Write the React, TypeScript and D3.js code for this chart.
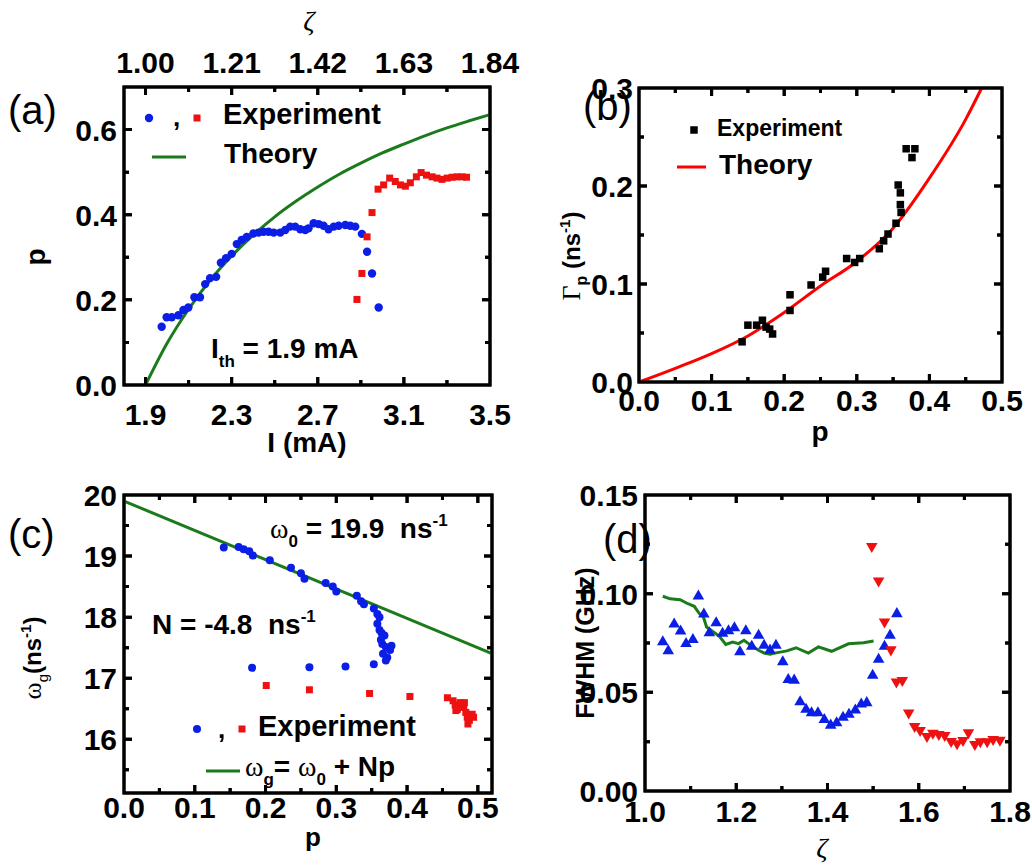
import React from "react";
import * as d3 from "d3";

const FONT = '"Liberation Sans", Arial, Helvetica, sans-serif';
const SERIF = '"Liberation Serif", "DejaVu Serif", serif';
const BLUE = "#0a1ee6";
const RED = "#ee1111";
const GREEN = "#1b7a1b";

const aBlueI = [1.975, 1.998, 2.022, 2.053, 2.076, 2.099, 2.127, 2.153, 2.177, 2.2, 2.228, 2.25, 2.274, 2.3, 2.324, 2.347, 2.37, 2.401, 2.425, 2.448, 2.471, 2.495, 2.526, 2.549, 2.572, 2.595, 2.619, 2.642, 2.657, 2.681, 2.704, 2.727, 2.75, 2.774, 2.797, 2.828, 2.851, 2.874, 2.905, 2.929, 2.952, 2.983];
const aBlueP = [0.137, 0.159, 0.159, 0.164, 0.176, 0.182, 0.206, 0.206, 0.237, 0.251, 0.254, 0.287, 0.298, 0.308, 0.331, 0.341, 0.348, 0.356, 0.358, 0.36, 0.36, 0.358, 0.358, 0.364, 0.372, 0.372, 0.366, 0.364, 0.368, 0.38, 0.378, 0.374, 0.366, 0.372, 0.374, 0.376, 0.374, 0.372, 0.355, 0.313, 0.262, 0.182];
const aRedI = [2.882, 2.905, 2.929, 2.952, 2.98, 3.006, 3.034, 3.06, 3.084, 3.107, 3.13, 3.158, 3.18, 3.205, 3.231, 3.254, 3.277, 3.301, 3.324, 3.347, 3.371, 3.391];
const aRedP = [0.201, 0.262, 0.348, 0.405, 0.46, 0.47, 0.486, 0.478, 0.47, 0.467, 0.475, 0.489, 0.499, 0.493, 0.489, 0.486, 0.483, 0.486, 0.488, 0.489, 0.489, 0.488];
const aTheoryI = [1.9, 2.0, 2.1, 2.2, 2.3, 2.4, 2.5, 2.6, 2.7, 2.8, 2.9, 3.0, 3.1, 3.2, 3.3, 3.4, 3.5];
const aTheoryP = [0, 0.098, 0.178, 0.246, 0.303, 0.352, 0.395, 0.432, 0.465, 0.495, 0.521, 0.545, 0.566, 0.586, 0.604, 0.62, 0.635];
const aXTicks = [1.9, 2.3, 2.7, 3.1, 3.5];
const aXMinor = [2.1, 2.5, 2.9, 3.3];
const aTopLabels = ["1.00", "1.21", "1.42", "1.63", "1.84"];
const aYTicks = [0, 0.2, 0.4, 0.6];
const aYMinor = [0.1, 0.3, 0.5];

const bExpP = [0.142, 0.15, 0.162, 0.17, 0.175, 0.18, 0.184, 0.208, 0.208, 0.237, 0.253, 0.257, 0.286, 0.297, 0.304, 0.331, 0.337, 0.343, 0.354, 0.357, 0.36, 0.36, 0.361, 0.368, 0.376, 0.38];
const bExpG = [0.041, 0.058, 0.058, 0.063, 0.056, 0.054, 0.049, 0.073, 0.089, 0.099, 0.107, 0.113, 0.126, 0.122, 0.126, 0.136, 0.144, 0.151, 0.162, 0.201, 0.193, 0.181, 0.173, 0.238, 0.229, 0.238];
const bTheoryP = [0, 0.05, 0.1, 0.15, 0.2, 0.25, 0.3, 0.35, 0.4, 0.45, 0.472];
const bTheoryG = [0, 0.014, 0.029, 0.047, 0.071, 0.098, 0.123, 0.157, 0.208, 0.268, 0.3];
const bXTicks = [0, 0.1, 0.2, 0.3, 0.4, 0.5];
const bXMinor = [0.05, 0.15, 0.25, 0.35, 0.45];
const bYTicks = [0, 0.1, 0.2, 0.3];
const bYMinor = [0.05, 0.15, 0.25];

const cBlueP = [0.141, 0.162, 0.169, 0.177, 0.182, 0.206, 0.236, 0.25, 0.255, 0.285, 0.295, 0.3, 0.329, 0.335, 0.339, 0.353, 0.358, 0.361, 0.358, 0.361, 0.364, 0.368, 0.363, 0.365, 0.37, 0.378, 0.376, 0.366, 0.372, 0.37, 0.353, 0.313, 0.262, 0.181];
const cBlueW = [19.14, 19.15, 19.11, 19.08, 19.01, 18.93, 18.81, 18.72, 18.63, 18.56, 18.5, 18.42, 18.35, 18.26, 18.21, 18.14, 18.05, 18.0, 17.89, 17.79, 17.74, 17.7, 17.63, 17.56, 17.51, 17.53, 17.46, 17.4, 17.34, 17.29, 17.23, 17.19, 17.18, 17.17];
const cRedP = [0.201, 0.262, 0.347, 0.404, 0.457, 0.465, 0.468, 0.471, 0.475, 0.48, 0.481, 0.483, 0.485, 0.488, 0.486, 0.492, 0.494, 0.469];
const cRedW = [16.88, 16.81, 16.75, 16.7, 16.68, 16.63, 16.56, 16.49, 16.6, 16.52, 16.6, 16.44, 16.36, 16.31, 16.25, 16.41, 16.36, 16.47];
const cFitP = [0, 0.52];
const cFitW = [19.9, 17.404];
const cXTicks = [0, 0.1, 0.2, 0.3, 0.4, 0.5];
const cXMinor = [0.05, 0.15, 0.25, 0.35, 0.45];
const cYTicks = [16, 17, 18, 19, 20];
const cYMinor = [15.5, 16.5, 17.5, 18.5, 19.5];

const dBlueZ = [1.039, 1.051, 1.064, 1.078, 1.09, 1.105, 1.117, 1.129, 1.141, 1.156, 1.17, 1.183, 1.196, 1.208, 1.221, 1.234, 1.249, 1.261, 1.274, 1.287, 1.302, 1.314, 1.327, 1.34, 1.353, 1.365, 1.379, 1.393, 1.407, 1.42, 1.434, 1.447, 1.461, 1.474, 1.486, 1.499, 1.512, 1.525, 1.537, 1.552];
const dBlueF = [0.0755, 0.071, 0.0845, 0.081, 0.0747, 0.0767, 0.0987, 0.0896, 0.0801, 0.0852, 0.0798, 0.0811, 0.0826, 0.0705, 0.0811, 0.0733, 0.0788, 0.0738, 0.0713, 0.0738, 0.0654, 0.0564, 0.0561, 0.0451, 0.0413, 0.0396, 0.0396, 0.0361, 0.0333, 0.0345, 0.0373, 0.0388, 0.041, 0.044, 0.0447, 0.0586, 0.0667, 0.0733, 0.0788, 0.0898];
const dRedZ = [1.497, 1.512, 1.525, 1.539, 1.551, 1.564, 1.578, 1.591, 1.603, 1.618, 1.631, 1.644, 1.657, 1.671, 1.684, 1.697, 1.709, 1.723, 1.735, 1.75, 1.763, 1.778];
const dRedF = [0.124, 0.1065, 0.0857, 0.0716, 0.0553, 0.0561, 0.0396, 0.0328, 0.0308, 0.0277, 0.0294, 0.0287, 0.0282, 0.0252, 0.024, 0.0257, 0.0296, 0.0236, 0.025, 0.025, 0.0262, 0.0258];
const dLineZ = [1.039, 1.055, 1.077, 1.094, 1.108, 1.119, 1.128, 1.135, 1.15, 1.163, 1.177, 1.192, 1.205, 1.217, 1.232, 1.249, 1.261, 1.274, 1.287, 1.311, 1.331, 1.358, 1.38, 1.409, 1.446, 1.479, 1.501];
const dLineF = [0.0987, 0.0974, 0.0969, 0.0949, 0.0936, 0.0899, 0.0882, 0.0831, 0.0806, 0.0784, 0.0743, 0.0755, 0.0747, 0.0764, 0.0738, 0.0713, 0.0699, 0.0693, 0.07, 0.071, 0.0726, 0.0699, 0.073, 0.0708, 0.0746, 0.0751, 0.076];
const dXTicks = [1.0, 1.2, 1.4, 1.6, 1.8];
const dXMinor = [1.1, 1.3, 1.5, 1.7];
const dYTicks = [0, 0.05, 0.1, 0.15];
const dYMinor = [0.025, 0.075, 0.125];

const ax = d3.scaleLinear().domain([1.8, 3.5]).range([124, 490]);
const ay = d3.scaleLinear().domain([0, 0.7]).range([385, 87]);
const bx = d3.scaleLinear().domain([0, 0.5]).range([639, 1002]);
const by = d3.scaleLinear().domain([0, 0.3]).range([382, 88]);
const cx = d3.scaleLinear().domain([0, 0.52]).range([124, 492]);
const cy = d3.scaleLinear().domain([15.12, 20]).range([793, 495]);
const dx = d3.scaleLinear().domain([1.0, 1.8]).range([645, 1010]);
const dy = d3.scaleLinear().domain([0, 0.15]).range([791, 495]);

type Sc = d3.ScaleLinear<number, number>;
const PANELS: [Sc, Sc, number[], number[], number[], number[]][] = [
  [ax, ay, aXTicks, aXMinor, aYTicks, aYMinor],
  [bx, by, bXTicks, bXMinor, bYTicks, bYMinor],
  [cx, cy, cXTicks, cXMinor, cYTicks, cYMinor],
  [dx, dy, dXTicks, dXMinor, dYTicks, dYMinor],
];

const f1 = d3.format(".1f");
const f2 = d3.format(".2f");
const f0 = d3.format("d");

function framePath(xs: Sc, ys: Sc, xM: number[], xm: number[], yM: number[], ym: number[]) {
  const [l, r] = xs.range();
  const [b, t] = ys.range();
  let d = `M${l},${t}H${r}V${b}H${l}Z`;
  const tx = (v: number, L: number) => {
    const px = xs(v);
    d += `M${px},${b}V${b - L}M${px},${t}V${t + L}`;
  };
  const ty = (v: number, L: number) => {
    const py = ys(v);
    d += `M${l},${py}H${l + L}M${r},${py}H${r - L}`;
  };
  xM.forEach((v) => tx(v, 8));
  xm.forEach((v) => tx(v, 5));
  yM.forEach((v) => ty(v, 8));
  ym.forEach((v) => ty(v, 5));
  return d;
}

export default function App() {
  const aLine = d3.line<number>().x((_, i) => ax(aTheoryI[i])).y((d) => ay(d)).curve(d3.curveMonotoneX)(aTheoryP) as string;
  const bLine = d3.line<number>().x((_, i) => bx(bTheoryP[i])).y((d) => by(d)).curve(d3.curveMonotoneX)(bTheoryG) as string;
  const cLine = d3.line<number>().x((_, i) => cx(cFitP[i])).y((d) => cy(d))(cFitW) as string;
  const dLine = d3.line<number>().x((_, i) => dx(dLineZ[i])).y((d) => dy(d))(dLineF) as string;

  const tri = d3.symbol(d3.symbolTriangle, 58)() as string;
  const frames = PANELS.map(([xs, ys, xM, xm, yM, ym]) => framePath(xs, ys, xM, xm, yM, ym));

  const sq = (x: number, y: number, s: number, fill: string, k: string | number) => (
    <rect key={k} x={x - s / 2} y={y - s / 2} width={s} height={s} fill={fill} />
  );
  const xLab = (xs: Sc, ticks: number[], fmt: (v: number) => string, y: number, k: string) =>
    ticks.map((v, i) => (
      <text key={k + i} x={xs(v)} y={y} textAnchor="middle" fontFamily={FONT} fontWeight="bold" fontSize={30}>
        {fmt(v)}
      </text>
    ));
  const yLab = (ys: Sc, ticks: number[], fmt: (v: number) => string, x: number, k: string) =>
    ticks.map((v, i) => (
      <text key={k + i} x={x} y={ys(v) + 11} textAnchor="end" fontFamily={FONT} fontWeight="bold" fontSize={30}>
        {fmt(v)}
      </text>
    ));

  return (
    <div style={{ position: "absolute", left: 0, top: 0, width: 1032, height: 865 }}>
      <svg width={1032} height={865} style={{ position: "absolute", left: 0, top: 0 }}>
        {frames.map((d, i) => (
          <path key={"fr0" + i} d={d} fill="none" stroke="#000" strokeWidth={3} />
        ))}
        {/* (a) */}
        <text x={8} y={124} fontFamily={FONT} fontSize={40}>(a)</text>
        <text x={309} y={30} textAnchor="middle" fontFamily={SERIF} fontStyle="italic" fontSize={28}>ζ</text>
        {aXTicks.map((v, i) => (
          <text key={"top" + i} x={ax(v)} y={73} textAnchor="middle" fontFamily={FONT} fontWeight="bold" fontSize={30}>
            {aTopLabels[i]}
          </text>
        ))}
        <path d={aLine} fill="none" stroke={GREEN} strokeWidth={3} />
        {aBlueI.map((v, i) => (
          <circle key={"ab" + i} cx={ax(v)} cy={ay(aBlueP[i])} r={4.2} fill={BLUE} />
        ))}
        {aRedI.map((v, i) => sq(ax(v), ay(aRedP[i]), 7, RED, "ar" + i))}
        {xLab(ax, aXTicks, f1, 425, "xla")}
        {yLab(ay, aYTicks, f1, 117, "yla")}
        <text x={307} y={452} textAnchor="middle" fontFamily={FONT} fontWeight="bold" fontSize={28}>I (mA)</text>
        <text transform="translate(45,257) rotate(-90)" textAnchor="middle" fontFamily={FONT} fontWeight="bold" fontSize={28}>p</text>
        <circle cx={149} cy={118} r={4.2} fill={BLUE} />
        <text x={173} y={126} fontFamily={FONT} fontWeight="bold" fontSize={26}>,</text>
        {sq(197, 118, 7, RED, "alr")}
        <text x={223} y={124} fontFamily={FONT} fontWeight="bold" fontSize={29}>Experiment</text>
        <rect x={152} y={155.5} width={34} height={3} fill={GREEN} />
        <text x={224} y={163} fontFamily={FONT} fontWeight="bold" fontSize={28}>Theory</text>
        <text x={211} y={358} fontFamily={FONT} fontWeight="bold" fontSize={28}>
          I<tspan dy={9} fontSize={17}>th</tspan>
          <tspan dy={-9}>{"\u00a0= 1.9 mA"}</tspan>
        </text>

        {/* (b) */}
        <text x={583} y={120} fontFamily={FONT} fontSize={40}>(b)</text>
        <path d={bLine} fill="none" stroke="#ff0000" strokeWidth={3} />
        {bExpP.map((v, i) => sq(bx(v), by(bExpG[i]), 7.5, "#000", "bk" + i))}
        {xLab(bx, bXTicks, f1, 411, "xlb")}
        {yLab(by, bYTicks, f1, 633, "ylb")}
        <text x={820} y={441} textAnchor="middle" fontFamily={FONT} fontWeight="bold" fontSize={28}>p</text>
        <text transform="translate(580,256) rotate(-90)" textAnchor="middle" fontFamily={FONT} fontWeight="bold" fontSize={24}>
          <tspan fontFamily={SERIF} fontWeight="normal" fontSize={26}>Γ</tspan>
          <tspan dy={7} fontSize={16}>p</tspan>
          <tspan dy={-7}>{"\u00a0(ns"}</tspan>
          <tspan dy={-10} fontSize={15}>-1</tspan>
          <tspan dy={10}>)</tspan>
        </text>
        {sq(694, 130, 7.5, "#000", "blk")}
        <text x={717} y={136} fontFamily={FONT} fontWeight="bold" fontSize={23}>Experiment</text>
        <rect x={677} y={165.5} width={29} height={3} fill="#ff0000" />
        <text x={719} y={174} fontFamily={FONT} fontWeight="bold" fontSize={28}>Theory</text>

        {/* (c) */}
        <text x={8} y={548} fontFamily={FONT} fontSize={40}>(c)</text>
        <path d={cLine} fill="none" stroke={GREEN} strokeWidth={3} />
        {cBlueP.map((v, i) => (
          <circle key={"cb" + i} cx={cx(v)} cy={cy(cBlueW[i])} r={4} fill={BLUE} />
        ))}
        {cRedP.map((v, i) => sq(cx(v), cy(cRedW[i]), 7, RED, "cr" + i))}
        {xLab(cx, cXTicks, f1, 818, "xlc")}
        {yLab(cy, cYTicks, f0, 117, "ylc")}
        <text x={313} y={846} textAnchor="middle" fontFamily={FONT} fontWeight="bold" fontSize={26}>p</text>
        <text transform="translate(41,658) rotate(-90)" textAnchor="middle" fontFamily={FONT} fontSize={24}>
          <tspan fontFamily={SERIF} fontSize={26}>ω</tspan>
          <tspan dy={7} fontSize={15}>g</tspan>
          <tspan dy={-7} fontWeight="bold">(ns</tspan>
          <tspan dy={-10} fontSize={15} fontWeight="bold">-1</tspan>
          <tspan dy={10} fontWeight="bold">)</tspan>
        </text>
        <text x={270} y={538} fontFamily={FONT} fontWeight="bold" fontSize={28}>
          <tspan fontFamily={SERIF} fontWeight="normal">ω</tspan>
          <tspan dy={9} fontSize={17}>0</tspan>
          <tspan dy={-9}>{"\u00a0= 19.9\u00a0\u00a0ns"}</tspan>
          <tspan dy={-12} fontSize={17}>-1</tspan>
        </text>
        <text x={152} y={634} fontFamily={FONT} fontWeight="bold" fontSize={28}>
          {"N = -4.8\u00a0\u00a0ns"}
          <tspan dy={-12} fontSize={17}>-1</tspan>
        </text>
        <circle cx={197} cy={729} r={4} fill={BLUE} />
        <text x={218} y={738} fontFamily={FONT} fontWeight="bold" fontSize={26}>,</text>
        {sq(242, 729, 7, RED, "clr")}
        <text x={258} y={736} fontFamily={FONT} fontWeight="bold" fontSize={29}>Experiment</text>
        <rect x={206} y={769.5} width={34} height={3} fill={GREEN} />
        <text x={245} y={776} fontFamily={FONT} fontWeight="bold" fontSize={28}>
          <tspan fontFamily={SERIF} fontWeight="normal">ω</tspan>
          <tspan dy={9} fontSize={17}>g</tspan>
          <tspan dy={-9}>{"= "}</tspan>
          <tspan fontFamily={SERIF} fontWeight="normal">ω</tspan>
          <tspan dy={9} fontSize={17}>0</tspan>
          <tspan dy={-9}>{"\u00a0+ Np"}</tspan>
        </text>

        {/* (d) */}
        <text x={603} y={553} fontFamily={FONT} fontSize={40}>(d)</text>
        <path d={dLine} fill="none" stroke={GREEN} strokeWidth={3} />
        {dBlueZ.map((v, i) => (
          <path key={"db" + i} d={tri} transform={`translate(${dx(v)},${dy(dBlueF[i])})`} fill={BLUE} />
        ))}
        {dRedZ.map((v, i) => (
          <path key={"dr" + i} d={tri} transform={`translate(${dx(v)},${dy(dRedF[i])}) rotate(180)`} fill={RED} />
        ))}
        {xLab(dx, dXTicks, f1, 822, "xld")}
        {yLab(dy, dYTicks, f2, 638, "yld")}
        <text x={822} y={857} textAnchor="middle" fontFamily={SERIF} fontStyle="italic" fontSize={28}>ζ</text>
        <text transform="translate(594,643) rotate(-90)" textAnchor="middle" fontFamily={FONT} fontWeight="bold" fontSize={25}>FWHM (GHz)</text>
      </svg>
      <svg width={1032} height={865} style={{ position: "absolute", left: 0, top: 0, pointerEvents: "none" }}>
        {frames.map((d, i) => (
          <path key={"fr1" + i} d={d} fill="none" stroke="#000" strokeWidth={3} />
        ))}
      </svg>
    </div>
  );
}
